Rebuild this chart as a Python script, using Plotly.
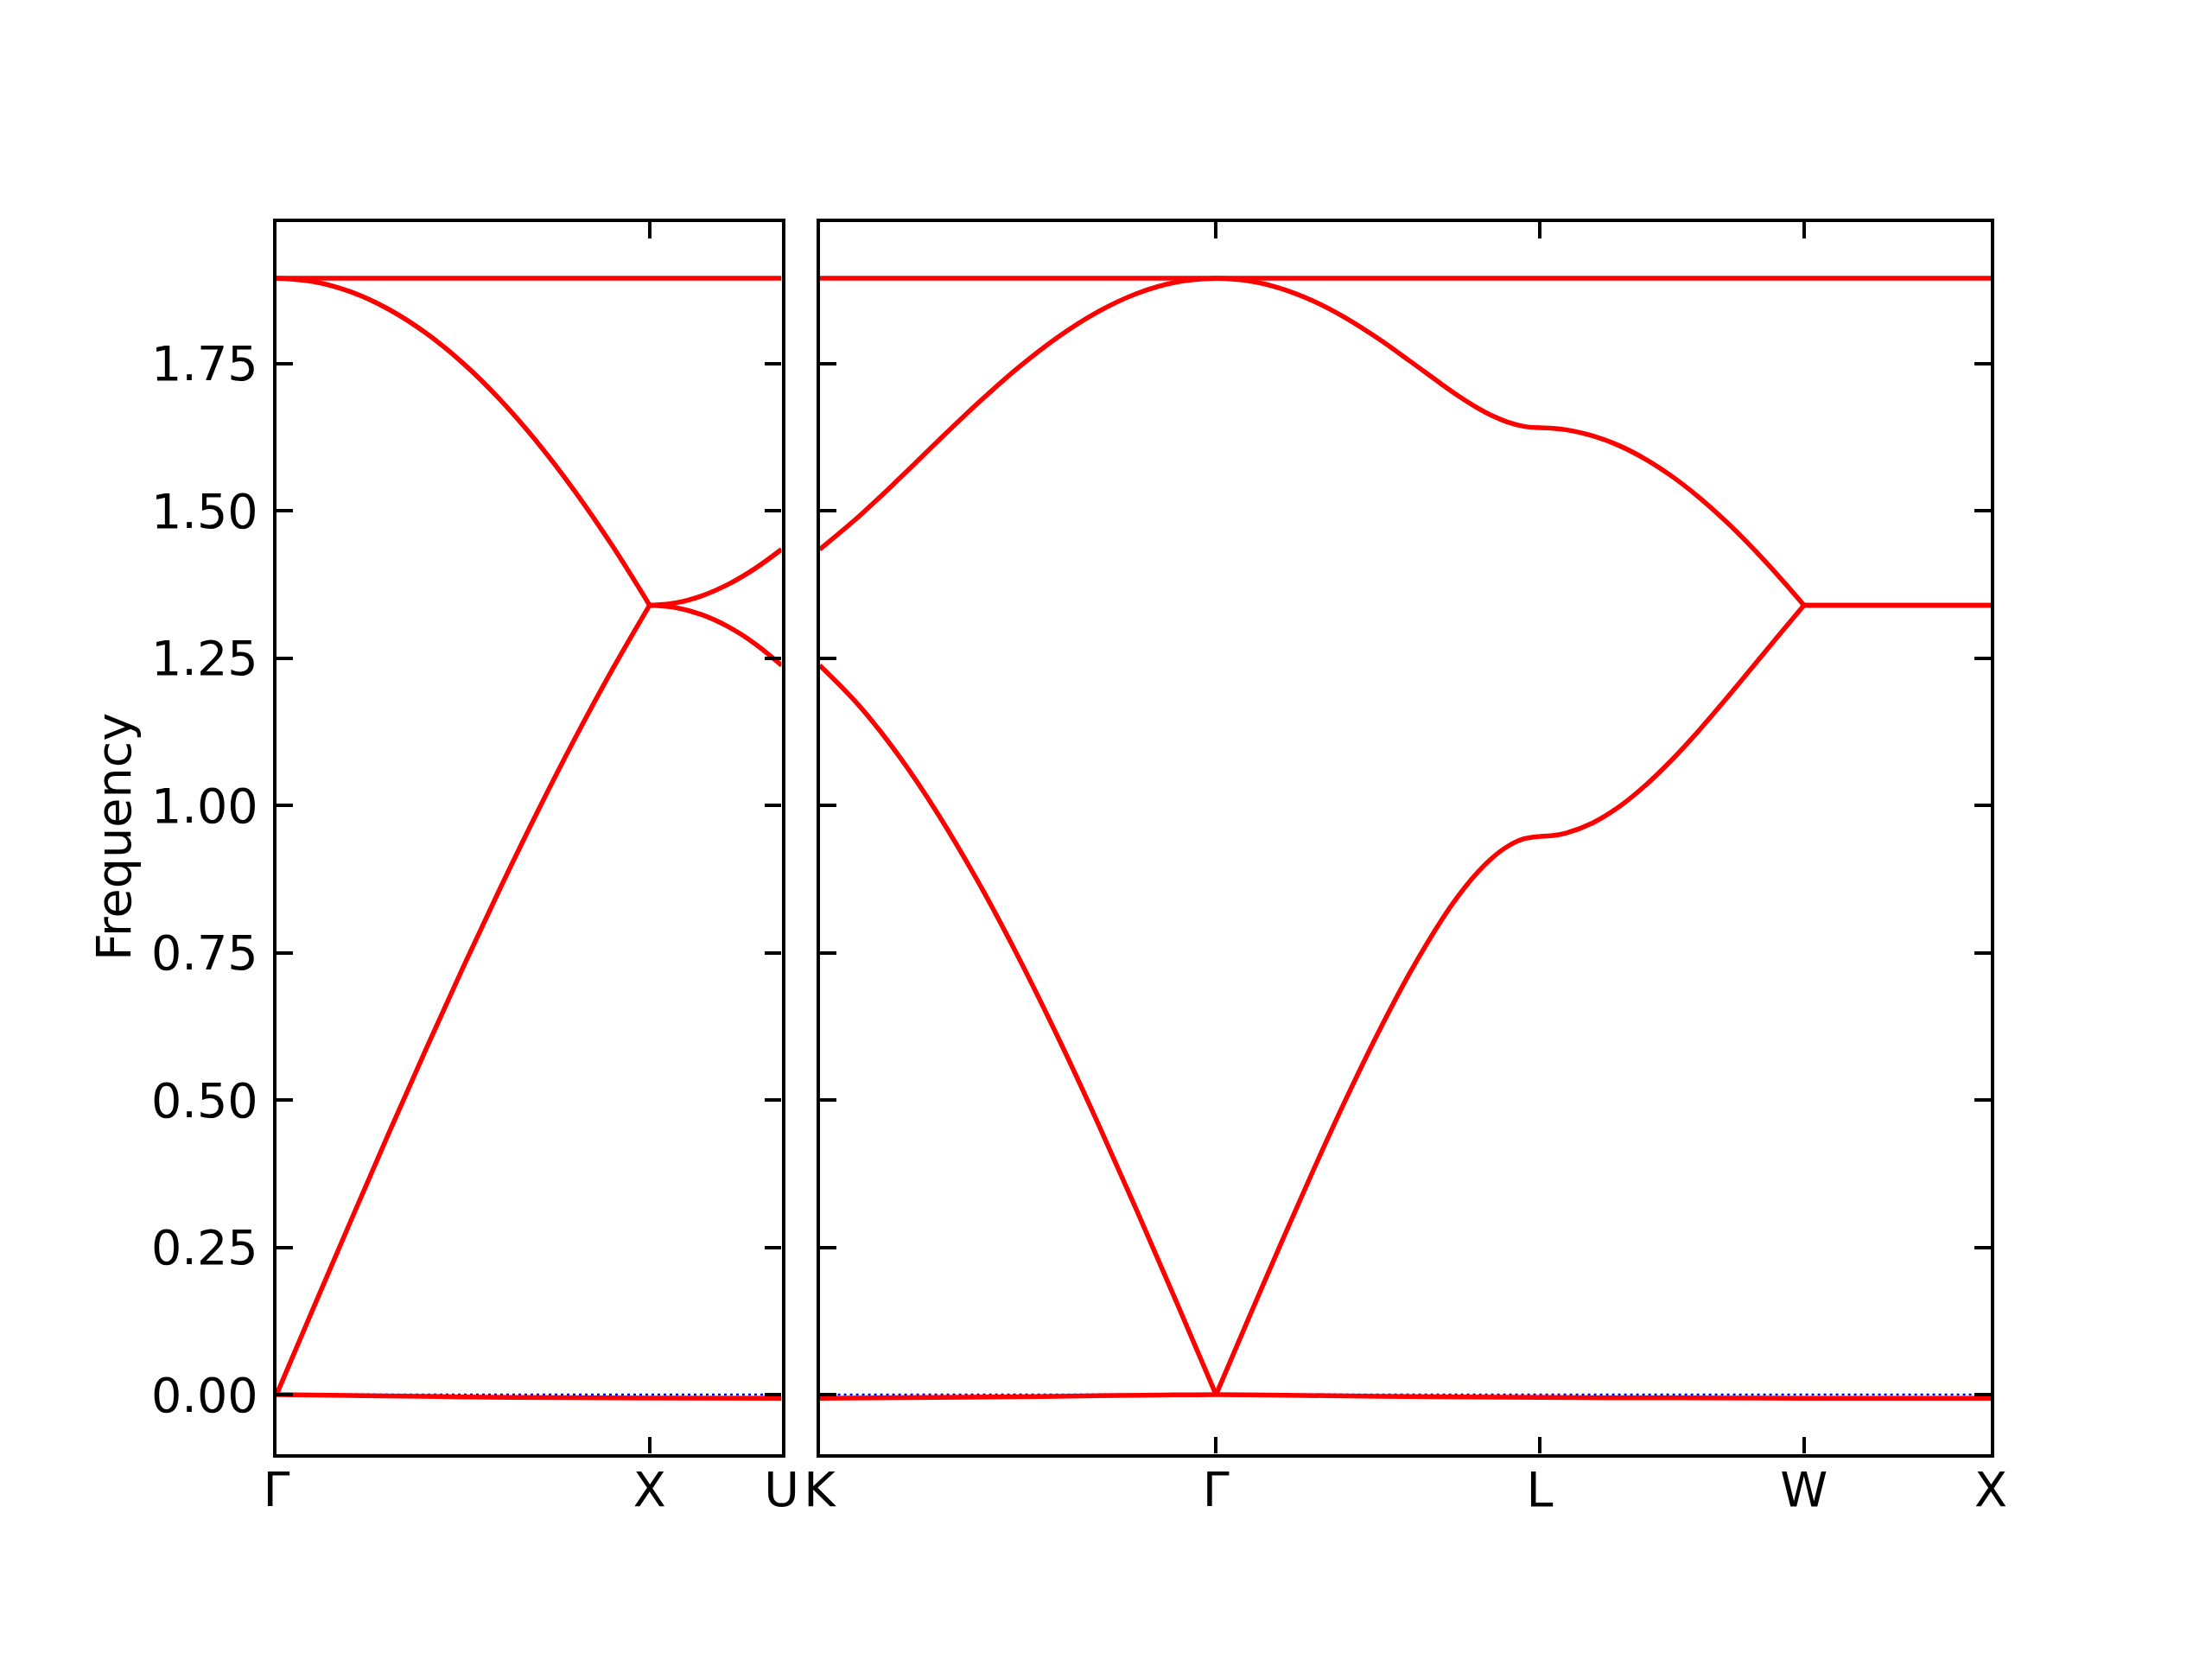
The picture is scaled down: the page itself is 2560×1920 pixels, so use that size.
import plotly.graph_objects as go

# ---------------- data ----------------
# left panel path: Gamma -> X -> U
left_ticks = [0.0, 1.0, 1.35355]
left_labels = ["Γ", "X", "U"]
# right panel path: K -> Gamma -> L -> W -> X
right_ticks = [0.0, 1.06066, 1.92669, 2.63380, 3.13380]
right_labels = ["K", "Γ", "L", "W", "X"]

# Gamma -> X
x_gx = [0.0, 0.1, 0.2, 0.3, 0.4, 0.5, 0.6, 0.7, 0.8, 0.9, 1.0]
low_gx = [0.0, 0.1487, 0.2964, 0.4424, 0.5856, 0.7252, 0.8603, 0.9901, 1.1139, 1.2307, 1.3400]
up_gx = [1.8950, 1.8892, 1.8717, 1.8426, 1.8022, 1.7508, 1.6885, 1.6158, 1.5331, 1.4410, 1.3400]
# X -> U
x_xu = [1.0, 1.07071, 1.14142, 1.21213, 1.28284, 1.35355]
low_xu = [1.3400, 1.3359, 1.3235, 1.3030, 1.2744, 1.2380]
up_xu = [1.3400, 1.3441, 1.3563, 1.3760, 1.4025, 1.4348]
# K -> Gamma
x_kg = [0.0, 0.10607, 0.21213, 0.31820, 0.42426, 0.53033, 0.63640, 0.74246, 0.84853, 0.95459, 1.06066]
low_kg = [1.2380, 1.1692, 1.0841, 0.9840, 0.8703, 0.7445, 0.6083, 0.4638, 0.3128, 0.1575, 0.0]
up_kg = [1.4348, 1.4914, 1.5543, 1.6196, 1.6834, 1.7427, 1.7947, 1.8374, 1.8691, 1.8885, 1.8950]
# Gamma -> L
x_gl = [1.06066, 1.14726, 1.23387, 1.32047, 1.40707, 1.49368, 1.58028, 1.66688, 1.71018,
        1.75349, 1.79678, 1.84009, 1.88338, 1.92669]
low_gl = [0.0, 0.1287, 0.2559, 0.3803, 0.5000, 0.6132, 0.7172, 0.8084, 0.8476,
          0.8816, 0.9095, 0.9303, 0.9432, 0.9475]
up_gl = [1.8950, 1.8907, 1.8777, 1.8565, 1.8279, 1.7931, 1.7541, 1.7140, 1.6949,
         1.6775, 1.6625, 1.6510, 1.6437, 1.6412]
# L -> W
x_lw = [1.92669, 1.96205, 1.99740, 2.06811, 2.13882, 2.20953, 2.28024, 2.35095, 2.42166,
        2.49237, 2.56308, 2.63380]
low_lw = [0.9475, 0.9490, 0.9533, 0.9704, 0.9978, 1.0341, 1.0774, 1.1260, 1.1781,
          1.2321, 1.2865, 1.3400]
up_lw = [1.6412, 1.6403, 1.6378, 1.6277, 1.6111, 1.5881, 1.5590, 1.5242, 1.4843,
         1.4398, 1.3914, 1.3400]
# W -> X
x_wx = [2.63380, 3.13380]
low_wx = [1.3400, 1.3400]
up_wx = [1.3400, 1.3400]

# flat top band
top_left_x = [0.0, 1.35355]
top_left_y = [1.895, 1.895]
top_right_x = [0.0, 3.13380]
top_right_y = [1.895, 1.895]

# flat band near zero
bot_left_x = [0.0, 0.1, 0.28, 0.5, 0.75, 1.0, 1.35355]
bot_left_y = [0.0, -0.0008, -0.002, -0.0038, -0.0052, -0.0059, -0.0060]
bot_right_x = [0.0, 0.4, 0.8, 0.95, 1.06066, 1.2, 1.5, 1.92669, 2.3, 2.6338, 3.1338]
bot_right_y = [-0.0060, -0.0045, -0.0015, -0.0004, 0.0, -0.0006, -0.0028, -0.0048, -0.0056, -0.0060, -0.0060]

# ---------------- figure ----------------
FONT = "DejaVu Sans"
FS = 55.6
RED = "#ff0000"
LW = 5.5
W, H = 2560, 1920
OFF = 8  # page body offset in the browser


def joined(segs):
    xs, ys = [], []
    for sx, sy in segs:
        if xs:
            xs.append(None)
            ys.append(None)
        xs.extend(sx)
        ys.extend(sy)
    return xs, ys


fig = go.Figure()

panels = [
    ("x", "y", left_ticks[-1],
     [[(x_gx, low_gx), (x_xu, low_xu)], [(x_gx, up_gx), (x_xu, up_xu)]],
     (top_left_x, top_left_y), (bot_left_x, bot_left_y)),
    ("x2", "y2", right_ticks[-1],
     [[(x_kg, low_kg), (x_gl, low_gl), (x_lw, low_lw), (x_wx, low_wx)],
      [(x_kg, up_kg), (x_gl, up_gl), (x_lw, up_lw), (x_wx, up_wx)]],
     (top_right_x, top_right_y), (bot_right_x, bot_right_y)),
]

for xa, ya, xmax, bands, top, bot in panels:
    # zero reference line (blue dotted)
    fig.add_trace(go.Scatter(x=[0.0, xmax], y=[0.0, 0.0], xaxis=xa, yaxis=ya,
                             mode="lines", line=dict(color="#0000ff", width=2.6, dash="3px,4px"),
                             showlegend=False, hoverinfo="skip"))
    for segs in bands:
        bx, by = joined(segs)
        fig.add_trace(go.Scatter(x=bx, y=by, xaxis=xa, yaxis=ya, mode="lines",
                                 line=dict(color=RED, width=LW, shape="spline", smoothing=1),
                                 connectgaps=False, showlegend=False))
    for fx, fy in (top, bot):
        fig.add_trace(go.Scatter(x=fx, y=fy, xaxis=xa, yaxis=ya, mode="lines",
                                 line=dict(color=RED, width=LW, shape="spline", smoothing=0.6),
                                 showlegend=False))

axis_common = dict(showline=True, linecolor="black", linewidth=4.4, mirror="ticks",
                   ticks="inside", ticklen=19, tickwidth=4.4, tickcolor="black",
                   showgrid=False, zeroline=False, automargin=False,
                   tickfont=dict(family=FONT, size=FS, color="black"))


def px_x(p):
    return (p - OFF) / W


def px_y(p):
    return 1 - (p - OFF) / H


ydom = [px_y(1682.5), px_y(257)]
yrange = [-0.1004, 1.9904]
ytickvals = [0.0, 0.25, 0.5, 0.75, 1.0, 1.25, 1.5, 1.75]
yticktext = ["%.2f" % v for v in ytickvals]

fig.update_layout(
    width=W, height=H,
    margin=dict(l=0, r=0, t=0, b=0, autoexpand=False),
    paper_bgcolor="white", plot_bgcolor="white",
    font=dict(family=FONT, size=FS, color="black"),
    xaxis=dict(domain=[px_x(320), px_x(904.5)], range=[0, left_ticks[-1]], anchor="y",
               tickmode="array", tickvals=left_ticks, ticktext=left_labels,
               ticklabelstandoff=-10, **axis_common),
    xaxis2=dict(domain=[px_x(948.6), px_x(2304)], range=[0, right_ticks[-1]], anchor="y2",
                tickmode="array", tickvals=right_ticks, ticktext=right_labels,
                ticklabelstandoff=-10, **axis_common),
    yaxis=dict(domain=ydom, range=yrange, anchor="x",
               tickmode="array", tickvals=ytickvals, ticktext=yticktext,
               ticklabelstandoff=6, **axis_common),
    yaxis2=dict(domain=ydom, range=yrange, anchor="x2", matches="y",
                tickmode="array", tickvals=ytickvals, showticklabels=False,
                **axis_common),
    annotations=[dict(text="Frequency", x=px_x(131), y=px_y(969),
                      xref="paper", yref="paper", xanchor="center", yanchor="middle",
                      textangle=-90, showarrow=False,
                      font=dict(family=FONT, size=FS, color="black"))],
)

fig.write_html("out.html")
